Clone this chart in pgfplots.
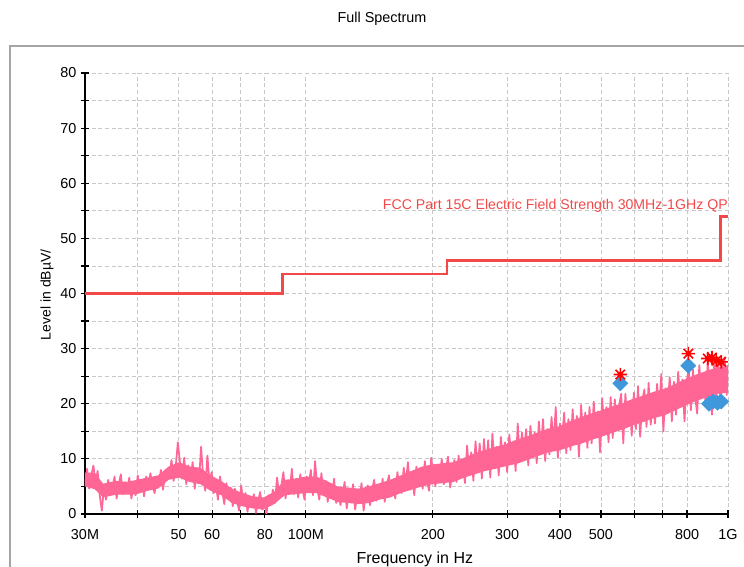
\documentclass[border=0pt]{standalone}
\usepackage{fontspec}
\setmainfont{Liberation Sans}
\usepackage{pgfplots}
\pgfplotsset{compat=1.18}
\usepackage{pgfplotstable}

\definecolor{trace}{RGB}{255,102,150}
\definecolor{limitred}{RGB}{242,72,72}
\definecolor{peakred}{RGB}{255,0,0}
\definecolor{finalblue}{RGB}{64,152,220}
\definecolor{gridgray}{RGB}{200,200,200}
\definecolor{framegray}{RGB}{165,165,165}

% eight-armed asterisk as used by the receiver software
\pgfdeclareplotmark{star8}{%
  \pgfpathmoveto{\pgfqpoint{-\pgfplotmarksize}{0pt}}\pgfpathlineto{\pgfqpoint{\pgfplotmarksize}{0pt}}%
  \pgfpathmoveto{\pgfqpoint{0pt}{-\pgfplotmarksize}}\pgfpathlineto{\pgfqpoint{0pt}{\pgfplotmarksize}}%
  \pgfpathmoveto{\pgfqpoint{-.707\pgfplotmarksize}{-.707\pgfplotmarksize}}\pgfpathlineto{\pgfqpoint{.707\pgfplotmarksize}{.707\pgfplotmarksize}}%
  \pgfpathmoveto{\pgfqpoint{-.707\pgfplotmarksize}{.707\pgfplotmarksize}}\pgfpathlineto{\pgfqpoint{.707\pgfplotmarksize}{-.707\pgfplotmarksize}}%
  \pgfusepathqstroke}

% x = log10(frequency / MHz), y = level in dBuV/m
\pgfplotstableread[row sep=\\]{
logf level\\
1.477 5.0\\ 1.482 8.2\\ 1.487 4.6\\ 1.492 7.0\\ 1.497 8.8\\ 1.502 5.6\\ 1.507 7.8\\ 1.512 3.4\\ 1.517 0.6\\ 1.522 4.8\\
1.527 2.6\\ 1.532 6.2\\ 1.537 3.8\\ 1.542 4.6\\ 1.547 6.8\\ 1.552 2.8\\ 1.557 5.4\\ 1.562 7.2\\ 1.567 3.6\\ 1.572 5.8\\
1.577 4.2\\ 1.582 6.6\\ 1.587 2.8\\ 1.592 5.2\\ 1.597 3.4\\ 1.602 7.0\\ 1.607 4.8\\ 1.612 6.0\\ 1.617 3.2\\ 1.622 6.8\\
1.627 4.6\\ 1.632 7.4\\ 1.637 5.0\\ 1.642 3.8\\ 1.647 6.8\\ 1.652 5.6\\ 1.657 8.0\\ 1.662 4.4\\ 1.667 7.2\\ 1.672 6.2\\
1.677 7.0\\ 1.682 9.8\\ 1.687 6.0\\ 1.692 8.6\\ 1.697 13.0\\ 1.702 9.4\\ 1.707 6.4\\ 1.712 10.2\\ 1.717 5.4\\ 1.722 8.8\\
1.727 6.0\\ 1.732 9.4\\ 1.737 4.6\\ 1.742 8.0\\ 1.747 5.8\\ 1.752 12.2\\ 1.757 6.8\\ 1.762 4.2\\ 1.767 10.6\\ 1.772 5.6\\
1.777 7.6\\ 1.782 3.8\\ 1.787 5.4\\ 1.792 2.6\\ 1.797 6.8\\ 1.802 4.2\\ 1.807 1.8\\ 1.812 5.6\\ 1.817 3.0\\ 1.822 4.8\\
1.827 1.4\\ 1.832 4.6\\ 1.837 2.6\\ 1.842 0.6\\ 1.847 5.2\\ 1.852 2.2\\ 1.857 3.8\\ 1.862 0.4\\ 1.867 3.0\\ 1.872 1.2\\
1.877 3.6\\ 1.882 0.2\\ 1.887 2.2\\ 1.892 4.0\\ 1.897 0.8\\ 1.902 2.8\\ 1.907 0.0\\ 1.912 3.4\\ 1.917 1.6\\ 1.922 4.4\\
1.927 2.0\\ 1.932 6.6\\ 1.937 3.4\\ 1.942 5.0\\ 1.947 7.6\\ 1.952 2.8\\ 1.957 5.8\\ 1.962 4.0\\ 1.967 8.2\\ 1.972 3.6\\
1.977 6.4\\ 1.982 3.0\\ 1.987 7.2\\ 1.992 4.6\\ 1.997 2.6\\ 2.002 6.8\\ 2.007 5.2\\ 2.012 8.0\\ 2.017 3.4\\ 2.022 9.6\\
2.027 4.8\\ 2.032 2.6\\ 2.037 7.4\\ 2.042 3.8\\ 2.047 6.0\\ 2.052 2.2\\ 2.057 5.4\\ 2.062 3.0\\ 2.067 6.4\\ 2.072 2.0\\
2.077 4.8\\ 2.082 1.6\\ 2.087 3.4\\ 2.092 5.8\\ 2.097 1.0\\ 2.102 4.2\\ 2.107 2.6\\ 2.112 5.4\\ 2.117 0.8\\ 2.122 3.8\\
2.127 2.0\\ 2.132 5.6\\ 2.137 0.6\\ 2.142 3.8\\ 2.147 5.2\\ 2.152 1.6\\ 2.157 4.4\\ 2.162 6.2\\ 2.167 2.4\\ 2.172 4.8\\
2.177 3.0\\ 2.182 6.4\\ 2.187 2.2\\ 2.192 5.2\\ 2.197 7.0\\ 2.202 3.6\\ 2.207 5.8\\ 2.212 2.8\\ 2.217 7.6\\ 2.222 4.6\\
2.227 3.8\\ 2.232 8.4\\ 2.237 5.6\\ 2.242 9.4\\ 2.247 4.4\\ 2.252 6.8\\ 2.257 3.4\\ 2.262 8.6\\ 2.267 5.2\\ 2.272 7.6\\
2.277 4.6\\ 2.282 9.6\\ 2.287 6.2\\ 2.292 4.2\\ 2.297 10.2\\ 2.302 7.4\\ 2.307 5.0\\ 2.312 8.8\\ 2.317 6.4\\ 2.322 10.0\\
2.327 5.4\\ 2.332 8.2\\ 2.337 10.4\\ 2.342 4.8\\ 2.347 7.6\\ 2.352 9.8\\ 2.357 5.8\\ 2.362 10.6\\ 2.367 6.6\\ 2.372 8.8\\
2.377 5.6\\ 2.382 12.4\\ 2.387 7.8\\ 2.392 11.2\\ 2.397 6.0\\ 2.402 13.2\\ 2.407 8.4\\ 2.412 12.8\\ 2.417 6.4\\ 2.422 13.6\\
2.427 8.2\\ 2.432 13.4\\ 2.437 6.6\\ 2.442 14.6\\ 2.447 9.0\\ 2.452 12.2\\ 2.457 7.0\\ 2.462 14.0\\ 2.467 9.6\\ 2.472 13.0\\
2.477 7.6\\ 2.482 14.4\\ 2.487 10.2\\ 2.492 13.2\\ 2.497 7.8\\ 2.502 16.4\\ 2.507 9.6\\ 2.512 14.8\\ 2.517 11.2\\ 2.522 15.4\\
2.527 8.8\\ 2.532 16.0\\ 2.537 11.4\\ 2.542 14.8\\ 2.547 9.2\\ 2.552 16.8\\ 2.557 12.2\\ 2.562 17.2\\ 2.567 9.6\\ 2.572 15.4\\
2.577 10.8\\ 2.582 17.6\\ 2.587 12.8\\ 2.592 19.4\\ 2.597 10.2\\ 2.602 16.4\\ 2.607 13.6\\ 2.612 18.4\\ 2.617 11.0\\ 2.622 17.2\\
2.627 11.6\\ 2.632 19.0\\ 2.637 13.6\\ 2.642 17.8\\ 2.647 10.4\\ 2.652 19.8\\ 2.657 14.4\\ 2.662 18.4\\ 2.667 12.0\\ 2.672 19.4\\
2.677 12.8\\ 2.682 20.4\\ 2.687 14.8\\ 2.692 18.6\\ 2.697 11.2\\ 2.702 21.0\\ 2.707 15.4\\ 2.712 19.4\\ 2.717 13.0\\ 2.722 21.2\\
2.727 13.8\\ 2.732 20.8\\ 2.737 15.8\\ 2.742 19.6\\ 2.747 21.8\\ 2.752 12.8\\ 2.757 21.8\\ 2.762 16.2\\ 2.767 20.2\\ 2.772 14.2\\
2.777 22.0\\ 2.782 15.4\\ 2.787 23.2\\ 2.792 14.0\\ 2.797 20.6\\ 2.802 22.6\\ 2.807 15.8\\ 2.812 23.8\\ 2.817 16.2\\ 2.822 21.8\\
2.827 16.4\\ 2.832 23.6\\ 2.837 18.6\\ 2.842 25.4\\ 2.847 15.0\\ 2.852 22.8\\ 2.857 19.6\\ 2.862 24.8\\ 2.867 16.8\\ 2.872 24.0\\
2.877 18.0\\ 2.882 25.8\\ 2.887 20.0\\ 2.892 24.4\\ 2.897 16.8\\ 2.902 24.0\\ 2.907 26.4\\ 2.912 18.8\\ 2.917 26.2\\ 2.922 21.4\\
2.927 18.2\\ 2.932 27.0\\ 2.937 21.6\\ 2.942 25.4\\ 2.947 19.6\\ 2.952 27.6\\ 2.957 22.6\\ 2.962 18.0\\ 2.967 27.2\\ 2.972 21.0\\
2.977 28.0\\ 2.982 19.8\\ 2.987 26.6\\ 2.992 28.4\\ 2.997 21.6\\ 3.000 27.0\\
}\spectrum

% dense core of the noise band: upper edge left to right, then lower edge back
\pgfplotstableread[row sep=\\]{
logf level\\
1.477 7.5\\ 1.500 7.5\\ 1.520 5.5\\ 1.550 6.0\\ 1.575 5.8\\ 1.600 6.2\\ 1.625 6.6\\ 1.650 7.0\\ 1.675 8.6\\ 1.700 9.4\\
1.725 8.6\\ 1.750 8.4\\ 1.775 7.0\\ 1.800 6.0\\ 1.825 4.6\\ 1.850 3.8\\ 1.875 3.2\\ 1.900 3.0\\ 1.925 4.0\\ 1.950 6.2\\
1.975 6.4\\ 2.000 6.8\\ 2.025 6.8\\ 2.050 6.0\\ 2.075 5.0\\ 2.100 4.8\\ 2.125 4.6\\ 2.150 5.0\\ 2.175 5.6\\ 2.200 6.2\\
2.225 7.0\\ 2.250 7.8\\ 2.275 8.6\\ 2.300 9.0\\ 2.325 9.2\\ 2.350 9.4\\ 2.375 10.2\\ 2.400 11.0\\ 2.425 11.6\\ 2.450 12.2\\
2.475 12.7\\ 2.500 13.5\\ 2.525 14.1\\ 2.550 14.8\\ 2.575 15.5\\ 2.600 15.9\\ 2.625 16.8\\ 2.650 17.5\\ 2.675 18.2\\ 2.700 18.8\\
2.725 19.5\\ 2.750 20.1\\ 2.775 20.9\\ 2.800 21.5\\ 2.825 22.2\\ 2.850 22.7\\ 2.875 23.6\\ 2.900 24.5\\ 2.925 25.3\\ 2.950 26.0\\
2.975 26.6\\ 3.000 26.8\\
3.000 22.0\\ 2.975 21.8\\ 2.950 21.2\\ 2.925 20.5\\ 2.900 19.7\\ 2.875 18.8\\ 2.850 17.9\\ 2.825 17.4\\ 2.800 16.7\\ 2.775 16.1\\
2.750 15.3\\ 2.725 14.7\\ 2.700 14.0\\ 2.675 13.4\\ 2.650 12.7\\ 2.625 12.2\\ 2.600 11.5\\ 2.575 11.2\\ 2.550 10.5\\ 2.525 9.8\\
2.500 9.1\\ 2.475 8.7\\ 2.450 8.2\\ 2.425 7.8\\ 2.400 7.2\\ 2.375 6.6\\ 2.350 5.8\\ 2.325 5.6\\ 2.300 5.4\\ 2.275 5.0\\
2.250 4.4\\ 2.225 3.8\\ 2.200 3.0\\ 2.175 2.6\\ 2.150 2.0\\ 2.125 1.8\\ 2.100 2.0\\ 2.075 2.2\\ 2.050 3.0\\ 2.025 3.8\\
2.000 3.8\\ 1.975 3.6\\ 1.950 3.4\\ 1.925 1.8\\ 1.900 0.8\\ 1.875 1.0\\ 1.850 1.4\\ 1.825 2.0\\ 1.800 3.4\\ 1.775 4.2\\
1.750 5.4\\ 1.725 5.8\\ 1.700 6.6\\ 1.675 6.2\\ 1.650 4.6\\ 1.625 4.2\\ 1.600 3.6\\ 1.575 3.5\\ 1.550 3.5\\ 1.520 3.0\\
1.500 4.5\\ 1.477 5.0\\
}\spectrumcore

% FCC Part 15C limit (QP), 30 MHz - 1 GHz
\pgfplotstableread[row sep=\\]{
logf level\\
1.4771 40\\ 1.9445 40\\ 1.9445 43.5\\ 2.3345 43.5\\ 2.3345 46\\ 2.9823 46\\ 2.9823 54\\ 3.0 54\\
}\limitline

% peak search (red) and final QP results (blue)
\pgfplotstableread[row sep=\\]{
logf level\\
2.745 25.3\\ 2.906 29.1\\ 2.952 28.2\\ 2.962 28.4\\ 2.972 27.8\\ 2.984 27.6\\
}\peaks
\pgfplotstableread[row sep=\\]{
logf level\\
2.745 23.7\\ 2.906 26.9\\ 2.955 20.0\\ 2.965 20.4\\ 2.975 20.2\\ 2.984 20.4\\
}\finals

\begin{document}
\begin{tikzpicture}
\useasboundingbox (-63.75pt,-39.75pt) rectangle (494.25pt,385.5pt);
\draw[framegray, line width=0.9pt] (-56.25pt,-80pt) rectangle (560pt,351pt);
\begin{axis}[
    scale only axis,
    width=482.25pt, height=330.75pt,
    xmin=1.4771, xmax=3, ymin=0, ymax=80,
    axis lines*=left,
    axis line style={line width=1.1pt, black},
    clip mode=individual,
    xtick={1.4771,1.6021,1.6990,1.7782,1.8451,1.9031,2,2.3010,2.4771,2.6021,2.6990,2.7782,2.8451,2.9031,3},
    xticklabels={30M,,50,60,,80,100M,200,300,400,500,,,800,1G},
    ytick={0,5,...,80},
    yticklabels={0,,10,,20,,30,,40,,50,,60,,70,,80},
    tick align=center,
    major tick length=6pt,
    tick style={black, line width=0.9pt},
    grid=major,
    major grid style={gridgray, dash pattern=on 3pt off 2pt, line width=0.6pt},
    ticklabel style={font=\fontsize{10.8}{12}\selectfont},
    xticklabel style={yshift=-5pt},
    title={Full Spectrum},
    title style={at={(axis description cs:0.462,1.104)}, anchor=center, font=\fontsize{10.8}{12}\selectfont},
    xlabel={Frequency in Hz},
    xlabel style={at={(axis description cs:0.513,-0.104)}, anchor=center, font=\fontsize{12}{14}\selectfont},
    ylabel={Level in dBµV/},
    ylabel style={at={(axis description cs:-0.0591,0.497)}, anchor=center, font=\fontsize{10.5}{12}\selectfont},
]
\addplot[draw=none, fill=trace] table[x=logf, y=level] {\spectrumcore};
\addplot[trace, line width=1.3pt, line join=round] table[x=logf, y=level] {\spectrum};
\addplot[limitred, line width=1.9pt] table[x=logf, y=level] {\limitline};
\addplot[only marks, mark=square*, mark size=4pt, mark options={rotate=45, fill=finalblue, draw=finalblue}] table[x=logf, y=level] {\finals};
\addplot[only marks, mark=star8, mark size=5pt, mark options={peakred, line width=1.2pt}] table[x=logf, y=level] {\peaks};
\node[anchor=base east, inner sep=0pt, text=limitred, font=\fontsize{10.6}{12}\selectfont] at (axis cs:3,55.2) {FCC Part 15C Electric Field Strength 30MHz-1GHz QP};
\end{axis}
\end{tikzpicture}
\end{document}
